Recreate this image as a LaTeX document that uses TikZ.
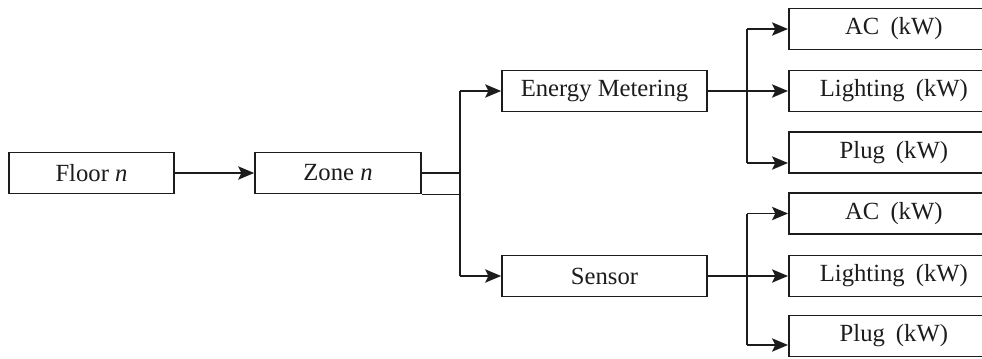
\documentclass[tikz,border=0pt]{standalone}
\usepackage{fontspec}
\setmainfont{Liberation Serif}
\usetikzlibrary{arrows.meta,calc}
\definecolor{ink}{HTML}{1C1C1C}
\begin{document}
\begin{tikzpicture}[x=0.75pt,y=-0.75pt,
  box/.style={draw=ink,line width=1.3pt,minimum height=30.75pt,inner sep=0pt,text=ink,
    font=\fontsize{18.5}{21}\selectfont},
  conn/.style={draw=ink,line width=1.3pt},
  arr/.style={conn,-{Stealth[length=12pt,width=10pt,inset=2.5pt]}}]
\useasboundingbox (0,0) rectangle (982,358);
\clip (0,0) rectangle (982,358);
% nodes
\node[box,minimum width=123.75pt] (floor) at (91.5,173) {Floor \textit{n}};
\node[box,minimum width=124.5pt] (zone) at (338,173) {Zone \textit{n}};
\node[box,minimum width=153.75pt] (em) at (604.5,91) {Energy Metering};
\node[box,minimum width=153.75pt] (sensor) at (604.5,276) {Sensor};
\node[box,minimum width=157.5pt,anchor=west] (ac1) at (788,29) {AC\hspace{0.45em}(kW)};
\node[box,minimum width=157.5pt,anchor=west] (li1) at (788,91) {Lighting\hspace{0.45em}(kW)};
\node[box,minimum width=157.5pt,anchor=west] (pl1) at (788,152.5) {Plug\hspace{0.45em}(kW)};
\node[box,minimum width=157.5pt,anchor=west] (ac2) at (788,213.5) {AC\hspace{0.45em}(kW)};
\node[box,minimum width=157.5pt,anchor=west] (li2) at (788,276) {Lighting\hspace{0.45em}(kW)};
\node[box,minimum width=157.5pt,anchor=west] (pl2) at (788,336) {Plug\hspace{0.45em}(kW)};
% junction coordinates
\coordinate (jz) at (460,173);
\coordinate (jt) at (460,91);
\coordinate (jb) at (460,276);
\coordinate (e1) at (747,29);
\coordinate (e2) at (747,163);
\coordinate (s1) at (747,213.5);
\coordinate (s2) at (747,345);
% connectors
\draw[arr] (floor.east) -- (zone.west);
\draw[conn] (zone.east) -- (jz);
\draw[conn] (zone.south east) -- (zone.south east -| jz);
\draw[conn] (jt) -- (jb);
\draw[arr] (jt) -- (jt -| em.west);
\draw[arr] (jb) -- (jb -| sensor.west);
\draw[arr] (em.east) -- (em.east -| li1.west);
\draw[conn] (e1) -- (e2);
\draw[arr] (e1) -- (e1 -| ac1.west);
\draw[arr] (e2) -- (e2 -| pl1.west);
\draw[arr] (sensor.east) -- (sensor.east -| li2.west);
\draw[conn] (s1) -- (s2);
\draw[arr] (s1) -- (s1 -| ac2.west);
\draw[arr] (s2) -- (s2 -| pl2.west);
\end{tikzpicture}
\end{document}
